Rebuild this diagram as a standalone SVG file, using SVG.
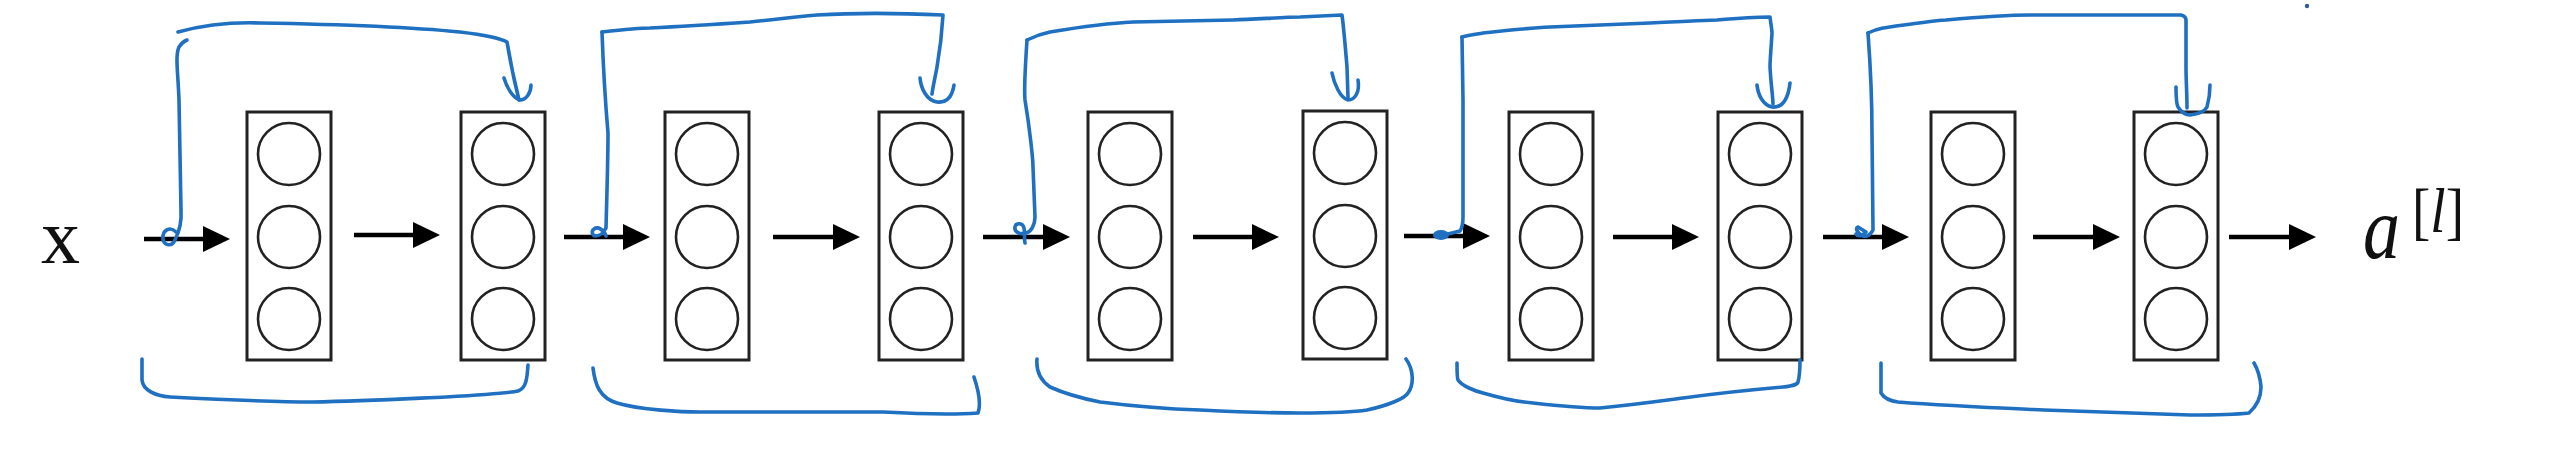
<svg xmlns="http://www.w3.org/2000/svg" width="2565" height="453" viewBox="0 0 2565 453">
<style>
.box{fill:#fff;stroke:#222;stroke-width:3}
.neu{fill:none;stroke:#222;stroke-width:2.6}
.arr{stroke:#000;stroke-width:4.5;fill:none}
.skip{fill:none;stroke:#1f70c1;stroke-width:3.6;stroke-linecap:round;stroke-linejoin:round}
.dot{fill:#1f70c1}
.lbl{font-family:"Liberation Serif","Times New Roman",serif;fill:#111}
</style>
<defs>
<marker id="ah" markerUnits="userSpaceOnUse" markerWidth="27" markerHeight="26" viewBox="0 0 27 26" refX="7" refY="13" orient="auto">
<path d="M0,0 L27,13 L0,26 z" fill="#000"/>
</marker>
<g id="layer">
<rect class="box" x="0" y="0" width="84" height="248"/>
<circle class="neu" cx="42" cy="42" r="31"/>
<circle class="neu" cx="42" cy="125" r="31"/>
<circle class="neu" cx="42" cy="207" r="31"/>
</g>
</defs>
<rect width="2565" height="453" fill="#fff"/>

<g id="input-x"><text class="lbl" x="41" y="263" font-size="78">x</text></g>

<g id="L1"><use href="#layer" x="247" y="112"/></g>
<g id="L2"><use href="#layer" x="461" y="112"/></g>
<g id="L3"><use href="#layer" x="665" y="112"/></g>
<g id="L4"><use href="#layer" x="879" y="112"/></g>
<g id="L5"><use href="#layer" x="1088" y="112"/></g>
<g id="L6"><use href="#layer" x="1303" y="111"/></g>
<g id="L7"><use href="#layer" x="1509" y="112"/></g>
<g id="L8"><use href="#layer" x="1718" y="112"/></g>
<g id="L9"><use href="#layer" x="1931" y="112"/></g>
<g id="L10"><use href="#layer" x="2134" y="112"/></g>

<g id="output-a">
<text class="lbl" x="2363" y="258" font-size="88" font-style="italic" textLength="37" lengthAdjust="spacingAndGlyphs">a</text>
<text class="lbl" x="2412" y="232" font-size="64" textLength="52" lengthAdjust="spacingAndGlyphs">[<tspan font-style="italic">l</tspan>]</text>
</g>

<g id="connectors">
<g id="arrows">
<line class="arr" x1="144" y1="239" x2="210" y2="239" marker-end="url(#ah)"/>
<line class="arr" x1="354" y1="235" x2="420" y2="235" marker-end="url(#ah)"/>
<line class="arr" x1="564" y1="237" x2="630" y2="237" marker-end="url(#ah)"/>
<line class="arr" x1="773" y1="237" x2="840" y2="237" marker-end="url(#ah)"/>
<line class="arr" x1="983" y1="237" x2="1050" y2="237" marker-end="url(#ah)"/>
<line class="arr" x1="1193" y1="237" x2="1259" y2="237" marker-end="url(#ah)"/>
<line class="arr" x1="1404" y1="236" x2="1470" y2="236" marker-end="url(#ah)"/>
<line class="arr" x1="1613" y1="237" x2="1679" y2="237" marker-end="url(#ah)"/>
<line class="arr" x1="1823" y1="237" x2="1889" y2="237" marker-end="url(#ah)"/>
<line class="arr" x1="2033" y1="237" x2="2100" y2="237" marker-end="url(#ah)"/>
<line class="arr" x1="2229" y1="237" x2="2296" y2="237" marker-end="url(#ah)"/>
</g>
<g id="skips">
<!-- skip 1 -->
<path class="skip" d="M176,232 C170,226 162,230 163,239 C164,246 172,247 175,240 C179,232 182,224 181,210 L179,100 C178,72 175,56 179,47 Q182,42 187,40"/>
<path class="skip" d="M178,32 C200,26 230,22 260,23 C320,24 400,26 460,32 C485,35 500,38 507,42 C510,60 514,80 519,100"/>
<path class="skip" d="M504,78 C507,88 513,98 520,100 C526,100 531,93 531,85"/>
<path class="skip" d="M142,359 L142,380 C143,390 155,396 170,397 C230,400 290,402 312,402 C370,401 420,398 446,397 C480,395 510,393 518,391 C526,388 527,380 528,365"/>
<!-- skip 2 -->
<path class="skip" d="M602,32 C603,60 606,110 608,133 C608,160 607,190 606,228 C604,232 600,236 596,236 C592,236 591,231 594,229 C598,226 604,230 606,236"/>
<path class="skip" d="M602,32 C620,30 640,28 650,28 C690,26 720,24 750,22 C780,19 800,16 817,15 C850,13 900,13 943,15 C942,33 940,50 937,67 C935,78 933,86 932,94"/>
<path class="skip" d="M920,78 C921,88 926,100 937,102 C946,103 952,98 954,85"/>
<path class="skip" d="M593,368 C595,385 600,398 617,403 C640,410 683,412 700,412 L883,412 C920,414 950,415 978,413 C981,405 980,395 974,377"/>
<!-- skip 3 -->
<path class="skip" d="M1027,40 C1025,70 1024,90 1025,100 C1030,130 1033,160 1033,167 L1035,217 C1035,225 1031,232 1026,233 C1020,235 1014,232 1015,227 C1016,222 1023,223 1024,228 C1025,234 1024,240 1025,243"/>
<path class="skip" d="M1027,40 C1035,36 1045,33 1050,32 C1080,27 1110,23 1133,22 L1233,20 C1260,19 1285,17 1300,17 L1342,15 C1344,30 1346,55 1347,67 L1348,98"/>
<path class="skip" d="M1332,73 C1334,83 1340,98 1348,100 C1355,100 1360,92 1358,80"/>
<path class="skip" d="M1037,359 C1036,370 1040,380 1050,387 C1070,396 1090,400 1100,402 C1140,407 1170,409 1200,410 C1240,412 1280,413 1300,413 C1330,413 1355,412 1367,410 C1390,405 1405,398 1408,393 C1414,385 1414,370 1406,359"/>
<!-- skip 4 -->
<path class="skip" d="M1462,37 L1463,100 L1463,217 C1463,223 1462,228 1460,231 L1448,234"/>
<ellipse class="dot" cx="1441" cy="235" rx="8" ry="5"/>
<path class="skip" d="M1462,37 C1470,35 1478,34 1483,33 C1510,30 1530,28 1550,27 C1600,25 1630,24 1650,23 C1690,21 1710,20 1717,20 C1740,18 1760,17 1770,17 C1771,25 1772,30 1772,33 C1771,50 1770,60 1770,67 C1771,85 1773,98 1773,104"/>
<path class="skip" d="M1757,85 C1758,95 1763,105 1772,107 C1782,108 1788,100 1790,83"/>
<path class="skip" d="M1457,363 C1457,372 1457,378 1458,380 C1462,386 1475,391 1483,393 C1500,398 1520,402 1533,403 C1560,406 1585,408 1600,408 C1640,404 1660,401 1683,398 C1720,393 1760,389 1783,387 C1795,386 1798,383 1798,382 C1800,375 1800,368 1800,360"/>
<!-- skip 5 -->
<path class="skip" d="M1868,33 C1870,60 1872,100 1872,133 L1873,230 C1870,236 1865,238 1861,235 C1857,232 1855,228 1858,227 L1866,232 C1862,236 1858,237 1856,234"/>
<path class="skip" d="M1868,33 C1872,31 1878,29 1883,28 C1910,24 1930,21 1946,20 C1980,17 2010,15 2029,15 L2181,15 C2185,16 2186,18 2186,20 L2186,67 C2186,80 2187,95 2187,108"/>
<path class="skip" d="M2176,87 C2176,95 2176,103 2178,107 C2182,113 2186,115 2190,115 C2198,114 2205,111 2207,107 C2209,100 2210,92 2210,85"/>
<path class="skip" d="M1881,363 L1881,393 C1884,398 1890,401 1898,402 C1950,406 2000,408 2044,410 C2100,412 2150,414 2190,415 C2220,415 2240,414 2249,413 C2258,405 2261,395 2261,387 C2260,375 2257,368 2254,363"/>
</g>
</g>
<circle cx="2307" cy="6" r="2.2" fill="#2a5c9a"/>
</svg>
